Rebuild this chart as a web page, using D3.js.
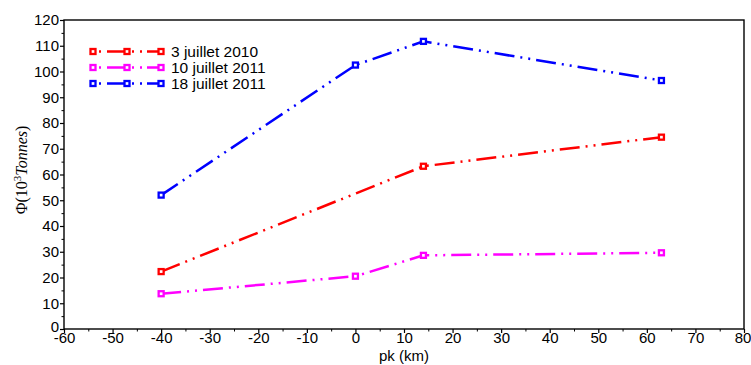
<!DOCTYPE html>
<html>
<head>
<meta charset="utf-8">
<script src="https://cdn.jsdelivr.net/npm/d3@7"></script>
<style>
  html, body { margin: 0; padding: 0; background: #fff; }
  svg { display: block; }
</style>
</head>
<body>
<svg id="chart" width="751" height="365"></svg>
<script>
// ---- data ----
const seriesNames = ["3 juillet 2010", "10 juillet 2011", "18 juillet 2011"];
const seriesColors = ["#ff0000", "#ff00ff", "#0000ff"];
const pkRed = [-40, 14, 63];
const phiRed = [22.3, 63.2, 74.5];
const pkMagenta = [-40, 0, 14, 63];
const phiMagenta = [13.7, 20.5, 28.6, 29.6];
const pkBlue = [-40, 0, 14, 63];
const phiBlue = [52.0, 102.5, 111.7, 96.5];
const xTicks = [-60, -50, -40, -30, -20, -10, 0, 10, 20, 30, 40, 50, 60, 70, 80];
const yTicks = [0, 10, 20, 30, 40, 50, 60, 70, 80, 90, 100, 110, 120];

const series = [
  { name: seriesNames[0], color: seriesColors[0], xs: pkRed, ys: phiRed },
  { name: seriesNames[1], color: seriesColors[1], xs: pkMagenta, ys: phiMagenta },
  { name: seriesNames[2], color: seriesColors[2], xs: pkBlue, ys: phiBlue }
];

const svg = d3.select("#chart");
const L = 64, R = 744, T = 20, B = 329;
const x = d3.scaleLinear().domain([-60, 80]).range([L, R]);
const y = d3.scaleLinear().domain([0, 120]).range([B, T]);
const font = "'Liberation Sans', Arial, sans-serif";
const dash = "20,6,2,6,2,6";

// frame
svg.append("rect").attr("x", L).attr("y", T).attr("width", R - L).attr("height", B - T)
  .attr("fill", "none").attr("stroke", "#000").attr("stroke-width", 1.4);

// x axis
const xAxis = svg.append("g").attr("transform", `translate(0,${B})`)
  .call(d3.axisBottom(x).tickValues(xTicks).tickSize(4).tickFormat(d => String(d)));
xAxis.select(".domain").remove();
xAxis.selectAll("line").attr("stroke-width", 1.2);
xAxis.selectAll("text").attr("font-family", font).attr("font-size", 15).attr("fill", "#000")
  .attr("y", 0).attr("dy", "0")
  .attr("transform", d => d === 80 ? "translate(-1.5,14)" : "translate(0,14)");
const xMinor = svg.append("g").attr("transform", `translate(0,${B})`)
  .call(d3.axisBottom(x).tickValues(xTicks.slice(0, -1).map(v => v + 5)).tickSize(2.5).tickFormat(""));
xMinor.select(".domain").remove();

// y axis
const yAxis = svg.append("g").attr("transform", `translate(${L},0)`)
  .call(d3.axisLeft(y).tickValues(yTicks).tickSize(4).tickPadding(1).tickFormat(d => String(d)));
yAxis.select(".domain").remove();
yAxis.selectAll("line").attr("stroke-width", 1.2);
yAxis.selectAll("text").attr("font-family", font).attr("font-size", 15).attr("fill", "#000")
  .attr("transform", d => d === 0 ? "translate(0,-2.5)" : null);
const yMinor = svg.append("g").attr("transform", `translate(${L},0)`)
  .call(d3.axisLeft(y).tickValues(yTicks.slice(0, -1).map(v => v + 5)).tickSize(2.5).tickFormat(""));
yMinor.select(".domain").remove();

// axis labels
svg.append("text").attr("x", (L + R) / 2).attr("y", 361).attr("text-anchor", "middle")
  .attr("font-family", font).attr("font-size", 15).text("pk (km)");

const yl = svg.append("text").attr("transform", "translate(27,170) rotate(-90)")
  .attr("text-anchor", "middle").attr("font-family", "'Liberation Serif', 'DejaVu Serif', serif")
  .attr("font-size", 16);
yl.append("tspan").text("Φ(10");
yl.append("tspan").attr("font-size", 11).attr("dy", -6).text("3");
yl.append("tspan").attr("font-style", "italic").attr("dy", 6).text("Tonnes");
yl.append("tspan").text(")");

// series
const line = d3.line().x(d => x(d[0])).y(d => y(d[1]));
series.forEach(s => {
  const pts = s.xs.map((v, i) => [v, s.ys[i]]);
  svg.append("path").datum(pts).attr("d", line).attr("fill", "none")
    .attr("stroke", s.color).attr("stroke-width", 2.5).attr("stroke-dasharray", dash);
  svg.selectAll(null).data(pts).enter().append("rect")
    .attr("x", d => x(d[0]) - 2.5).attr("y", d => y(d[1]) - 2.5)
    .attr("width", 5).attr("height", 5)
    .attr("fill", "#fff").attr("stroke", s.color).attr("stroke-width", 2.3);
});

// legend
const legY = [51.5, 67.5, 83.5];
series.forEach((s, i) => {
  const g = svg.append("g");
  g.append("line").attr("x1", 93).attr("x2", 161).attr("y1", legY[i]).attr("y2", legY[i])
    .attr("stroke", s.color).attr("stroke-width", 2.5).attr("stroke-dasharray", "0,6,2,6,17,0,2,6,2,6,2,5,17");
  [93, 127, 161].forEach(px => {
    g.append("rect").attr("x", px - 2.5).attr("y", legY[i] - 2.5).attr("width", 5).attr("height", 5)
      .attr("fill", "#fff").attr("stroke", s.color).attr("stroke-width", 2.3);
  });
  g.append("text").attr("x", 171).attr("y", legY[i] + 5.5).attr("font-family", font)
    .attr("font-size", 15.5).text(s.name);
});
</script>
</body>
</html>
